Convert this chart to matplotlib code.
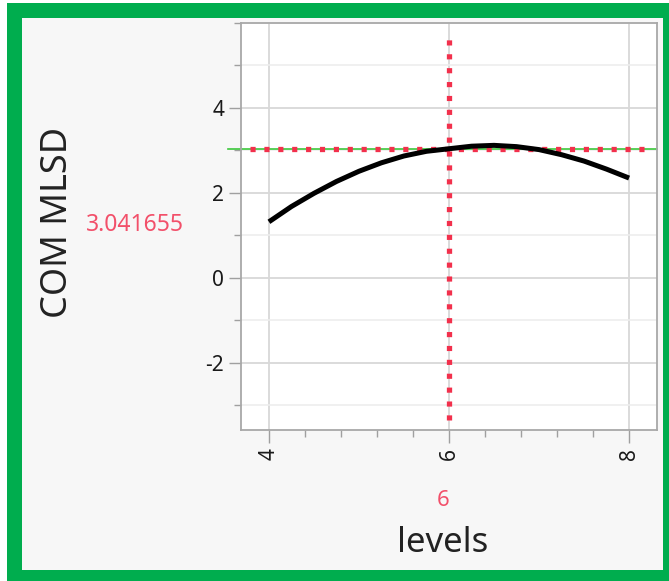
import numpy as np
import matplotlib
matplotlib.use('Agg')
import matplotlib.pyplot as plt
from matplotlib.patches import Rectangle
from matplotlib.ticker import MultipleLocator

# prediction profile
levels = [4.0, 4.25, 4.5, 4.75, 5.0, 5.25, 5.5, 5.75, 6.0,
          6.25, 6.5, 6.75, 7.0, 7.25, 7.5, 7.75, 8.0]
com_mlsd = [1.32, 1.68, 1.99, 2.27, 2.51, 2.71, 2.87, 2.98, 3.04,
            3.10, 3.12, 3.09, 3.02, 2.90, 2.75, 2.56, 2.35]
x_current = 6
y_current = 3.041655
x_ticks = [4, 6, 8]
y_ticks = [-2, 0, 2, 4]

W, H = 669, 581
red = '#F2304C'
redtxt = '#F2506A'
green = '#00AD4E'
plt.rcParams['font.family'] = ['Noto Sans', 'DejaVu Sans']
plt.rcParams['axes.unicode_minus'] = False
plt.rcParams['lines.scale_dashes'] = False

fig = plt.figure(figsize=(W / 100, H / 100), dpi=100)
fig.patch.set_facecolor('white')

def fx(px):
    return px / W

def fy(py):
    return 1 - py / H

# green frame and grey panel
fig.patches.append(Rectangle((fx(7), 0), 1 - fx(7), fy(3), transform=fig.transFigure,
                             facecolor=green, edgecolor='none', zorder=-2))
fig.patches.append(Rectangle((fx(22), fy(570)), fx(663) - fx(22), fy(18) - fy(570),
                             transform=fig.transFigure, facecolor='#F7F7F7',
                             edgecolor='none', zorder=-1))

ax = fig.add_axes([fx(241), fy(430), fx(657) - fx(241), fy(23) - fy(430)])
ax.set_zorder(1)
ax.set_facecolor('white')
ax.set_xlim(3.69, 8.31)
ax.set_ylim(-3.58, 6.0)

ax.xaxis.set_major_locator(MultipleLocator(2))
ax.xaxis.set_minor_locator(MultipleLocator(0.4))
ax.yaxis.set_major_locator(MultipleLocator(2))
ax.yaxis.set_minor_locator(MultipleLocator(1))
ax.set_xticks(x_ticks)
ax.set_yticks(y_ticks)

ax.grid(True, which='major', color='#D8D8D8', linewidth=1.3)
ax.grid(True, which='minor', axis='y', color='#EDEDED', linewidth=1.2)
ax.set_axisbelow(True)

for s in ax.spines.values():
    s.set_color('#A8A8A8')
    s.set_linewidth(1.3)

ax.tick_params(axis='both', which='major', direction='out', length=9, width=1,
               color='#A0A0A0', labelsize=15, labelcolor='#1A1A1A')
ax.tick_params(axis='both', which='minor', direction='out', length=5, width=1,
               color='#A0A0A0')
ax.tick_params(axis='x', which='major', labelrotation=90, pad=4)
ax.tick_params(axis='y', which='major', pad=3)

# reference lines
dots = (0, (3.7, 6.3))
ax.axhline(y_current, xmin=-0.031, xmax=1.0, color='#3CC83C', linewidth=1.2,
           clip_on=False, zorder=2)
ax.axhline(y_current, xmin=0.022, xmax=0.971, color=red, linewidth=3.8,
           linestyle=dots, dash_capstyle='butt', zorder=3)
ax.axvline(x_current, ymin=0.025, ymax=0.978, color=red, linewidth=3.8,
           linestyle=dots, dash_capstyle='butt', zorder=3)

ax.plot(levels, com_mlsd, color='black', linewidth=3.6, solid_capstyle='butt', zorder=4)

# labels
fig.text(fx(58), fy(222), 'COM MLSD', rotation=90, fontsize=26, color='#222222',
         ha='center', va='center')
fig.text(fx(135), fy(225), '%.6f' % y_current, fontsize=16.5, color=redtxt,
         ha='center', va='center')
fig.text(fx(443), fy(501), str(x_current), fontsize=16, color=redtxt,
         ha='center', va='center')
fig.text(fx(443), fy(543), 'levels', fontsize=25, color='#222222',
         ha='center', va='center')

fig.savefig('out.png', dpi=100, facecolor=fig.get_facecolor())
